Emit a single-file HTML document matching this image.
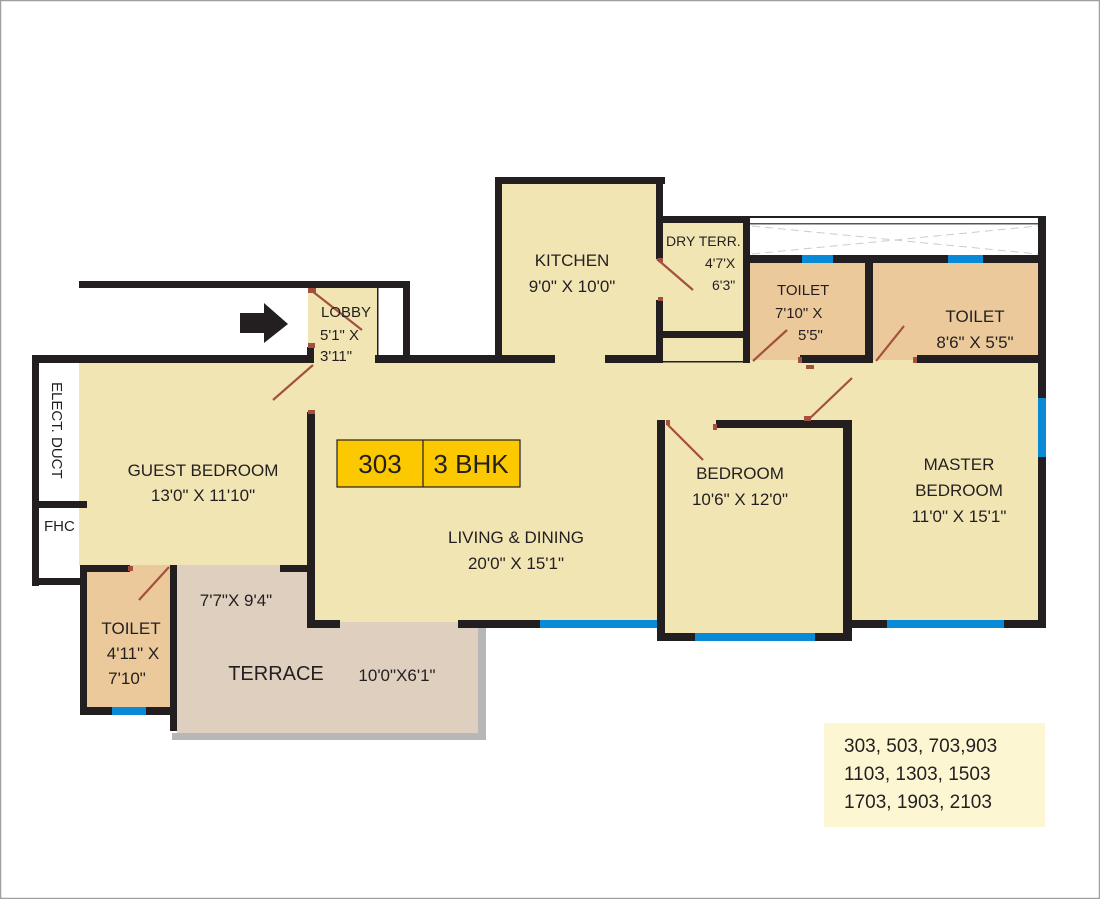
<!DOCTYPE html>
<html><head><meta charset="utf-8"><style>
html,body{margin:0;padding:0;background:#fff}
svg{display:block}
text{font-family:"Liberation Sans",sans-serif;fill:#231f20}
</style></head><body>
<svg width="1100" height="899" viewBox="0 0 1100 899" xmlns="http://www.w3.org/2000/svg">
<rect x="0.5" y="0.5" width="1099" height="898" fill="#fff" stroke="#a0a0a0" stroke-width="1.5"/>
<g fill="#f2e5b4">
<rect x="308" y="288" width="70" height="75"/>
<rect x="79" y="362" width="230" height="204"/>
<rect x="307" y="360" width="735" height="262"/>
<rect x="502" y="184" width="155" height="176"/>
<rect x="655" y="223" width="90" height="140"/>
<rect x="663" y="420" width="185" height="216"/>
</g>
<g fill="#ebc99b">
<rect x="750" y="262" width="290" height="98"/>
<rect x="84" y="565" width="90" height="145"/>
</g>
<rect x="177" y="565" width="132" height="59" fill="#decfbf"/>
<rect x="177" y="622" width="302" height="112" fill="#decfbf"/>
<rect x="478" y="622" width="8" height="118" fill="#b7b7b7"/>
<rect x="172" y="733" width="314" height="7" fill="#b7b7b7"/>
<rect x="750" y="216" width="290" height="40" fill="#fff"/>
<rect x="750" y="216" width="290" height="2" fill="#231f20"/>
<rect x="750" y="223" width="290" height="1.5" fill="#555"/>
<path d="M752 226 L1038 254 M752 254 L1038 226" stroke="#ccc" stroke-dasharray="8 5" stroke-width="1"/>
<g fill="#231f20">
<rect x="79" y="281" width="331" height="7"/>
<rect x="403" y="281" width="7" height="75"/>
<rect x="377" y="288" width="1.5" height="68"/>
<rect x="32" y="355" width="282" height="8"/>
<rect x="307" y="347" width="7" height="16"/>
<rect x="32" y="355" width="7" height="231"/>
<rect x="39" y="501" width="48" height="7"/>
<rect x="32" y="578" width="52" height="7"/>
<rect x="80" y="565" width="7" height="150"/>
<rect x="80" y="565" width="50" height="7"/>
<rect x="170" y="565" width="7" height="166"/>
<rect x="80" y="707" width="97" height="8"/>
<rect x="280" y="565" width="29" height="7"/>
<rect x="307" y="412" width="8" height="216"/>
<rect x="307" y="620" width="33" height="8"/>
<rect x="458" y="620" width="199" height="8"/>
<rect x="375" y="355" width="180" height="8"/>
<rect x="605" y="355" width="58" height="8"/>
<rect x="495" y="177" width="170" height="7"/>
<rect x="495" y="177" width="7" height="180"/>
<rect x="656" y="177" width="7" height="82"/>
<rect x="656" y="300" width="7" height="62"/>
<rect x="663" y="216" width="87" height="7"/>
<rect x="743" y="216" width="7" height="147"/>
<rect x="663" y="331" width="80" height="7"/>
<rect x="663" y="361" width="80" height="1.5"/>
<rect x="743" y="255" width="297" height="8"/>
<rect x="865" y="255" width="8" height="107"/>
<rect x="800" y="355" width="73" height="8"/>
<rect x="917" y="355" width="125" height="8"/>
<rect x="1038" y="216" width="8" height="412"/>
<rect x="657" y="420" width="8" height="220"/>
<rect x="716" y="420" width="136" height="8"/>
<rect x="843" y="420" width="9" height="220"/>
<rect x="657" y="633" width="195" height="8"/>
<rect x="852" y="620" width="194" height="8"/>
</g>
<g fill="#0a8ad6">
<rect x="112" y="707" width="34" height="8"/>
<rect x="540" y="620" width="117" height="8"/>
<rect x="695" y="633" width="120" height="8"/>
<rect x="887" y="620" width="117" height="8"/>
<rect x="1038" y="398" width="8" height="59"/>
<rect x="802" y="255" width="31" height="8"/>
<rect x="948" y="255" width="35" height="8"/>
</g>
<g stroke="#a3513f" stroke-width="2.2" fill="none">
<path d="M312 291 L362 330"/>
<path d="M313 365 L273 400"/>
<path d="M169 567 L139 600"/>
<path d="M657 259 L693 290"/>
<path d="M753 361 L787 330"/>
<path d="M876 361 L904 326"/>
<path d="M808 420 L852 378"/>
<path d="M667 424 L703 460"/>
</g>
<g fill="#a3513f">
<rect x="308" y="288" width="8" height="5"/><rect x="308" y="343" width="7" height="5"/>
<rect x="308" y="410" width="7" height="4"/><rect x="128" y="566" width="5" height="5"/>
<rect x="658" y="258" width="5" height="4"/><rect x="658" y="297" width="5" height="4"/>
<rect x="798" y="357" width="4" height="6"/><rect x="913" y="357" width="4" height="6"/>
<rect x="806" y="365" width="8" height="4"/><rect x="804" y="416" width="7" height="5"/>
<rect x="713" y="424" width="4" height="6"/><rect x="666" y="420" width="4" height="5"/>
</g>
<path d="M240 313 L264 313 L264 303 L288 324 L264 343 L264 333 L240 333 Z" fill="#231f20"/>
<rect x="337" y="440" width="183" height="47" fill="#fcc800" stroke="#231f20" stroke-width="1.2"/>
<line x1="423" y1="440" x2="423" y2="487" stroke="#231f20" stroke-width="1.2"/>
<text x="380" y="473" font-size="26" text-anchor="middle">303</text>
<text x="471" y="473" font-size="26" text-anchor="middle">3 BHK</text>
<g font-size="15">
<text x="321" y="317">LOBBY</text>
<text x="320" y="340">5'1" X</text>
<text x="320" y="361">3'11"</text>
</g>
<text x="0" y="0" font-size="15" transform="translate(52,382) rotate(90)">ELECT. DUCT</text>
<text x="44" y="531" font-size="15">FHC</text>
<g font-size="17" text-anchor="middle">
<text x="203" y="476">GUEST BEDROOM</text>
<text x="203" y="501">13'0" X 11'10"</text>
<text x="516" y="543">LIVING &amp; DINING</text>
<text x="516" y="569">20'0" X 15'1"</text>
<text x="572" y="266">KITCHEN</text>
<text x="572" y="292">9'0" X 10'0"</text>
<text x="740" y="479">BEDROOM</text>
<text x="740" y="505">10'6" X 12'0"</text>
<text x="959" y="470">MASTER</text>
<text x="959" y="496">BEDROOM</text>
<text x="959" y="522">11'0" X 15'1"</text>
<text x="975" y="322">TOILET</text>
<text x="975" y="348">8'6" X 5'5"</text>
<text x="131" y="634">TOILET</text>
<text x="133" y="659">4'11" X</text>
<text x="127" y="684">7'10"</text>
<text x="236" y="606">7'7"X 9'4"</text>
<text x="397" y="681">10'0"X6'1"</text>
</g>
<text x="276" y="680" font-size="20" text-anchor="middle">TERRACE</text>
<g font-size="14">
<text x="666" y="246">DRY TERR.</text>
<text x="705" y="268">4'7'X</text>
<text x="712" y="290">6'3"</text>
</g>
<g font-size="15">
<text x="777" y="295">TOILET</text>
<text x="775" y="318">7'10" X</text>
<text x="798" y="340">5'5"</text>
</g>
<rect x="824" y="723" width="221" height="104" fill="#fcf6d3"/>
<g font-size="19">
<text x="844" y="752">303, 503, 703,903</text>
<text x="844" y="780">1103, 1303, 1503</text>
<text x="844" y="808">1703, 1903, 2103</text>
</g>
</svg>
</body></html>
